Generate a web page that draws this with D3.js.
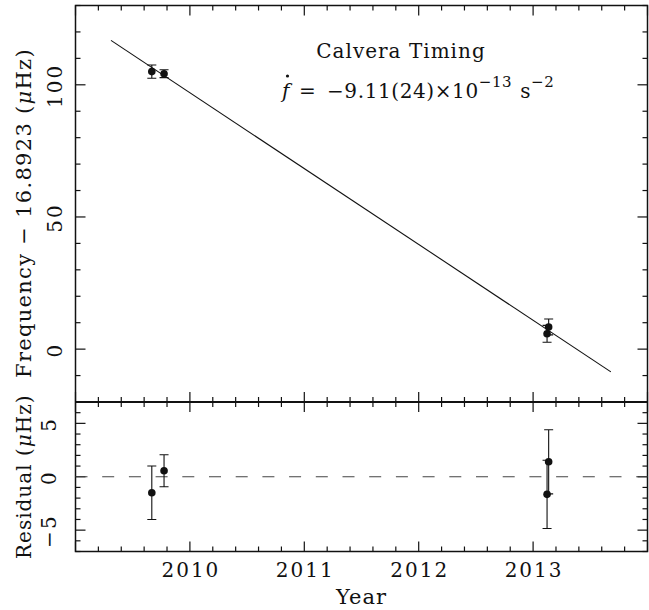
<!DOCTYPE html>
<html>
<head>
<meta charset="utf-8">
<script src="https://cdn.jsdelivr.net/npm/d3@7"></script>
<style>
  html, body { margin: 0; padding: 0; background: #fff; }
  svg { display: block; }
  text { font-family: "DejaVu Serif", serif; fill: #111; letter-spacing: 1px; }
</style>
</head>
<body>
<svg id="chart" width="649" height="610"></svg>
<script>
// ---- data ----
const years     = [2009.667, 2009.774, 2013.122, 2013.136];
const freq      = [105.0, 104.2, 5.8, 8.4];          // μHz, minus 16.8923 Hz
const freqErr   = [2.5, 1.5, 3.2, 3.0];
const resid     = [-1.5, 0.56, -1.65, 1.4];          // μHz
const residErr  = [2.5, 1.5, 3.2, 3.0];
const fitYears  = [2009.31, 2013.68];
const fitFreq   = [116.8, -8.6];
const xTickLabels   = [2010, 2011, 2012, 2013];
const topTickLabels = [0, 50, 100];
const botTickLabels = [-5, 0, 5];

// ---- layout ----
const L = 75.5, R = 647.5, T = 5.5, M = 402, B = 551.5;
const svg = d3.select("#chart");

const x = d3.scaleLinear().domain([2009, 2014]).range([L, R]);
const yTop = d3.scaleLinear().domain([-20, 130]).range([M, T]);
const yBot = d3.scaleLinear().domain([-7, 7]).range([B, M]);

const ink = "#111";

function tickLines(g, data) {
  g.selectAll(null).data(data).enter().append("line")
    .attr("x1", d => d[0]).attr("y1", d => d[1])
    .attr("x2", d => d[2]).attr("y2", d => d[3])
    .attr("stroke", ink).attr("stroke-width", 1.2);
}

const ticks = svg.append("g");
const xMinor = d3.range(2009, 2014.001, 0.2).map(v => +v.toFixed(1));
[[T, 1], [M, -1], [M, 1], [B, -1]].forEach(([yy, dir]) => {
  tickLines(ticks, xMinor.map(v => {
    const major = Math.abs(v - Math.round(v)) < 1e-6;
    const len = major ? 10 : 5;
    return [x(v), yy, x(v), yy + dir * len];
  }));
});
const topMinor = d3.range(-20, 131, 10);
[[L, 1], [R, -1]].forEach(([xx, dir]) => {
  tickLines(ticks, topMinor.map(v => {
    const len = (v % 50 === 0) ? 10 : 5;
    return [xx, yTop(v), xx + dir * len, yTop(v)];
  }));
});
const botMinor = d3.range(-7, 7.01, 1);
[[L, 1], [R, -1]].forEach(([xx, dir]) => {
  tickLines(ticks, botMinor.map(v => {
    const len = (v % 5 === 0) ? 10 : 5;
    return [xx, yBot(v), xx + dir * len, yBot(v)];
  }));
});

// frame
svg.append("rect").attr("x", L).attr("y", T).attr("width", R - L).attr("height", B - T)
  .attr("fill", "none").attr("stroke", ink).attr("stroke-width", 1.5);
svg.append("line").attr("x1", L).attr("x2", R).attr("y1", M).attr("y2", M)
  .attr("stroke", ink).attr("stroke-width", 2);

// tick labels
svg.append("g").selectAll("text").data(xTickLabels).enter().append("text")
  .attr("x", d => x(d) + 1).attr("y", 577).attr("text-anchor", "middle")
  .attr("font-size", 20).style("letter-spacing", "2px").text(d => d);
svg.append("g").selectAll("text").data(topTickLabels).enter().append("text")
  .attr("transform", d => `translate(61.5,${yTop(d) + 1}) rotate(-90)`)
  .attr("text-anchor", "middle").attr("font-size", 20).style("letter-spacing", "2px").text(d => d);
svg.append("g").selectAll("text").data(botTickLabels).enter().append("text")
  .attr("transform", d => `translate(56,${yBot(d) + 1}) rotate(-90)`)
  .attr("text-anchor", "middle").attr("font-size", 20).style("letter-spacing", "2px")
  .text(d => d < 0 ? "\u2212" + Math.abs(d) : d);

// axis titles
svg.append("text").attr("x", (L + R) / 2).attr("y", 604).attr("text-anchor", "middle")
  .attr("font-size", 21).text("Year");
const yl = svg.append("text").attr("transform", "translate(31,213) rotate(-90)")
  .attr("text-anchor", "middle").attr("font-size", 21).style("letter-spacing", "1.3px");
yl.append("tspan").text("Frequency \u2212 16.8923 (");
yl.append("tspan").attr("font-style", "italic").text("\u03bc");
yl.append("tspan").text("Hz)");
const rl = svg.append("text").attr("transform", `translate(31,${(M + B) / 2}) rotate(-90)`)
  .attr("text-anchor", "middle").attr("font-size", 20);
rl.append("tspan").text("Residual (");
rl.append("tspan").attr("font-style", "italic").text("\u03bc");
rl.append("tspan").text("Hz)");

// annotation
svg.append("text").attr("x", 401).attr("y", 58).attr("text-anchor", "middle")
  .attr("font-size", 20).text("Calvera Timing");
svg.append("text").attr("x", 282).attr("y", 98).attr("font-size", 20)
  .attr("font-style", "italic").text("f");
svg.append("circle").attr("cx", 287.5).attr("cy", 76).attr("r", 1.6).attr("fill", ink);
svg.append("text").attr("x", 299).attr("y", 98).attr("font-size", 20).text("=");
const fm = svg.append("text").attr("x", 327).attr("y", 98).attr("font-size", 20)
  .style("letter-spacing", "0.6px");
fm.append("tspan").text("\u22129.11(24)\u00d710");
fm.append("tspan").attr("dy", -11).attr("font-size", 15).text("\u221213");
fm.append("tspan").attr("dy", 11).attr("dx", 8).text("s");
fm.append("tspan").attr("dy", -11).attr("font-size", 15).text("\u22122");

// fit line
const fit = fitYears.map((v, i) => [v, fitFreq[i]]);
svg.append("path").datum(fit)
  .attr("d", d3.line().x(d => x(d[0])).y(d => yTop(d[1])))
  .attr("fill", "none").attr("stroke", ink).attr("stroke-width", 1.1);

// zero line in residual panel
svg.append("line").attr("x1", L).attr("x2", R).attr("y1", yBot(0)).attr("y2", yBot(0))
  .attr("stroke", "#444").attr("stroke-width", 1.2).attr("stroke-dasharray", "12,14.7");

function errPoints(yScale, vals, errs) {
  const g = svg.append("g");
  const pts = years.map((v, i) => ({ t: v, v: vals[i], e: errs[i] }));
  g.selectAll(".eb").data(pts).enter().append("path")
    .attr("d", d => {
      const xx = x(d.t), y1 = yScale(d.v + d.e), y2 = yScale(d.v - d.e), c = 4.5;
      return `M${xx},${y1}V${y2}M${xx - c},${y1}H${xx + c}M${xx - c},${y2}H${xx + c}`;
    })
    .attr("fill", "none").attr("stroke", ink).attr("stroke-width", 1.1);
  g.selectAll(".pt").data(pts).enter().append("circle")
    .attr("cx", d => x(d.t)).attr("cy", d => yScale(d.v)).attr("r", 3.8).attr("fill", ink);
}
errPoints(yTop, freq, freqErr);
errPoints(yBot, resid, residErr);
</script>
</body>
</html>
